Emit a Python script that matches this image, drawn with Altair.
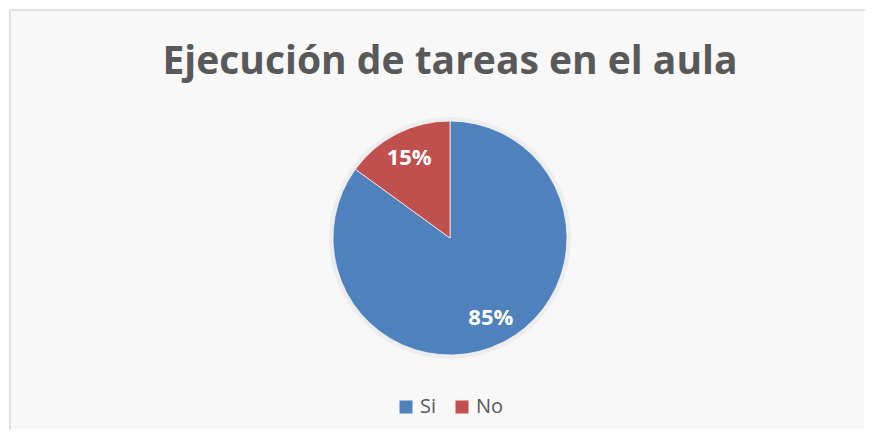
import altair as alt
import pandas as pd

categories = ["Si", "No"]
values = [85, 15]
labels = ["85%", "15%"]
order = [1, 2]
colors = ["#4F81BD", "#C0504D"]
title_text = ["Ejecución de tareas en el aula"]

df = pd.DataFrame({"cat": categories, "value": values, "label": labels, "ord": order})

FONT = "Open Sans"
CX, CY = 440, 228
BORDER = "#d9d9d9"

base = alt.Chart(df)

halo = base.mark_arc(radius=121, color="#bfbfbf", opacity=0.18).encode(
    theta=alt.Theta("value:Q", stack=True),
    order=alt.Order("ord:Q"),
    x=alt.value(CX), y=alt.value(CY),
)

pie = base.mark_arc(radius=117, stroke="white", strokeWidth=0.7).encode(
    theta=alt.Theta("value:Q", stack=True),
    order=alt.Order("ord:Q"),
    color=alt.Color(
        "cat:N",
        scale=alt.Scale(domain=categories, range=colors),
        legend=alt.Legend(
            title=None, orient="none", direction="horizontal",
            legendX=386, legendY=387, symbolType="square", symbolSize=169,
            symbolStrokeWidth=0, labelFontSize=20, labelFont=FONT,
            labelColor="#595959", labelOffset=4, columnPadding=15,
        ),
    ),
    x=alt.value(CX), y=alt.value(CY),
)

txt = base.mark_text(radius=90, font=FONT, fontWeight="bold", fontSize=22,
                     color="white").encode(
    theta=alt.Theta("value:Q", stack=True),
    order=alt.Order("ord:Q"),
    text="label:N",
    x=alt.value(CX), y=alt.value(CY),
)

title = alt.Chart(pd.DataFrame({"t": title_text})).mark_text(
    font=FONT, fontWeight="bold", fontSize=39, color="#595959",
    baseline="alphabetic", align="center",
).encode(text="t:N", x=alt.value(440), y=alt.value(64))

frame_top = alt.Chart(pd.DataFrame({"k": [0]})).mark_rule(
    color=BORDER, strokeWidth=1.5
).encode(x=alt.value(0), x2=alt.value(857), y=alt.value(0))
frame_left = alt.Chart(pd.DataFrame({"k": [0]})).mark_rule(
    color=BORDER, strokeWidth=1.5
).encode(x=alt.value(0), y=alt.value(0), y2=alt.value(422))

chart = alt.layer(frame_top, frame_left, halo, pie, txt, title).properties(
    width=857, height=422,
    padding={"left": 1, "top": 1, "right": 0, "bottom": 0},
    autosize=alt.AutoSizeParams(type="fit", contains="padding"),
).configure_view(fill="#f8f8f8", stroke=None)

chart.save("out.html", embed_options={"renderer": "svg", "actions": False})
